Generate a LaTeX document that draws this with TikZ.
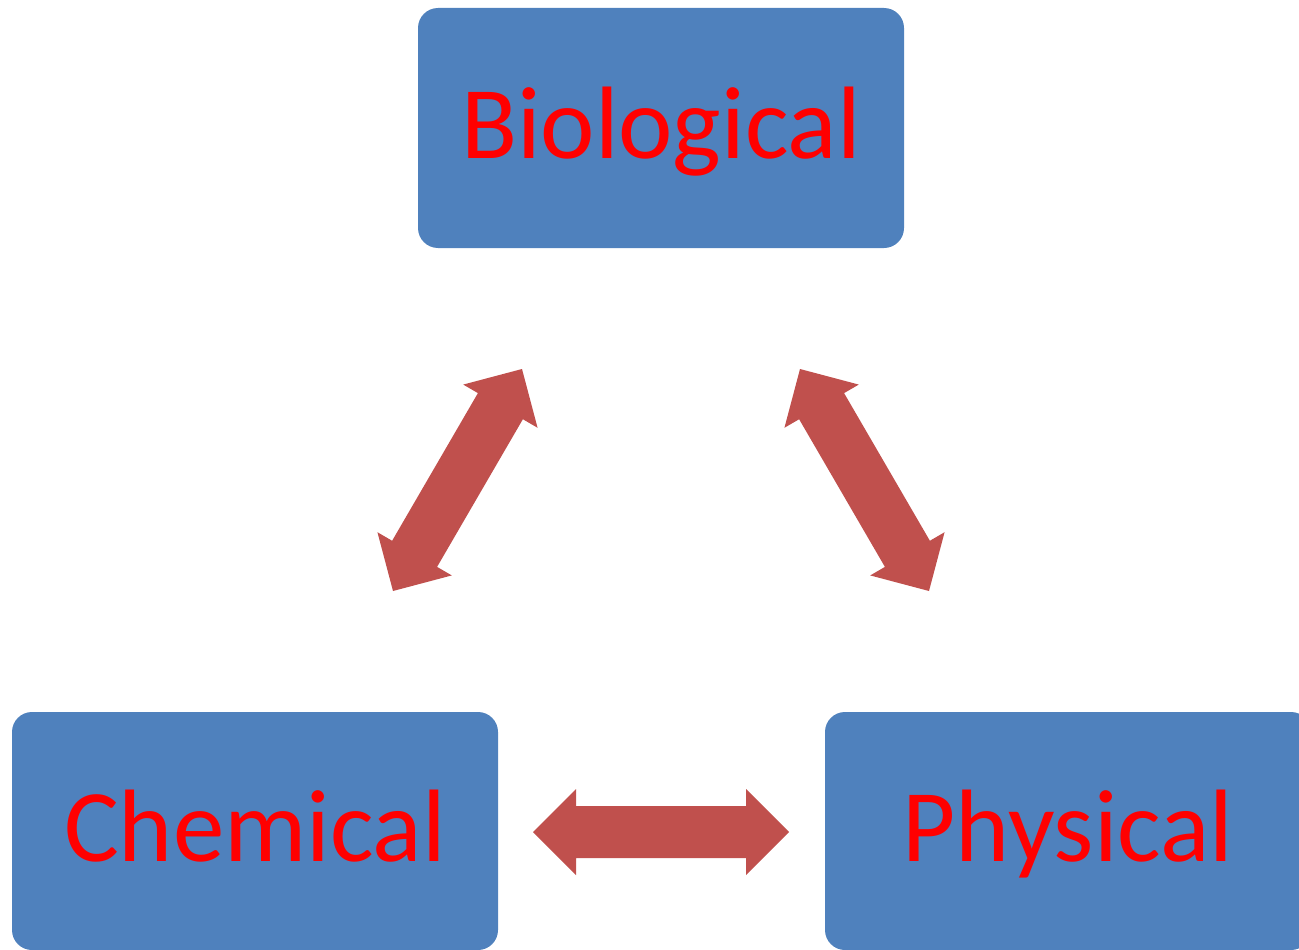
\documentclass[tikz,border=0pt]{standalone}
\usepackage{fontspec}
\setmainfont{Carlito}
\usepackage{tikz}
\usetikzlibrary{calc}

\definecolor{boxblue}{HTML}{4F81BD}
\definecolor{arrowred}{HTML}{C0504D}

% 双向粗箭头: #1, #2 为两个箭尖
\newcommand{\blockarrow}[2]{%
  \fill[arrowred] (#1)
    -- ($(#1)!43pt!(#2)!43pt!90:(#2)$)
    -- ($(#1)!43pt!(#2)!26pt!90:(#2)$)
    -- ($(#2)!43pt!(#1)!26pt!-90:(#1)$)
    -- ($(#2)!43pt!(#1)!43pt!-90:(#1)$)
    -- (#2)
    -- ($(#2)!43pt!(#1)!43pt!90:(#1)$)
    -- ($(#2)!43pt!(#1)!26pt!90:(#1)$)
    -- ($(#1)!43pt!(#2)!26pt!-90:(#2)$)
    -- ($(#1)!43pt!(#2)!43pt!-90:(#2)$)
    -- cycle;}

\begin{document}
\begin{tikzpicture}[x=1pt, y=-1pt,
    box/.style={fill=boxblue, rounded corners=20pt, inner sep=0pt,
      minimum width=486pt, minimum height=238pt,
      text height=90pt, text depth=30pt, text=red,
      font=\fontsize{103}{120}\selectfont}]
    \clip (0,0) rectangle (1299,950);

    % 三个方框
    \node[box, minimum height=240pt] (bio) at (661,128) {Biological};
    \node[box] (chem) at (255,831) {Chemical};
    \node[box] (phys) at (1068,831) {Physical};

    % 箭尖
    \coordinate (cb) at (393,591);
    \coordinate (bc) at (522,369);
    \coordinate (bp) at (800,369);
    \coordinate (pb) at (929,591);
    \coordinate (cp) at (533,832);
    \coordinate (pc) at (789,832);

    % 双向箭头
    \blockarrow{cb}{bc}
    \blockarrow{bp}{pb}
    \blockarrow{cp}{pc}
\end{tikzpicture}
\end{document}
